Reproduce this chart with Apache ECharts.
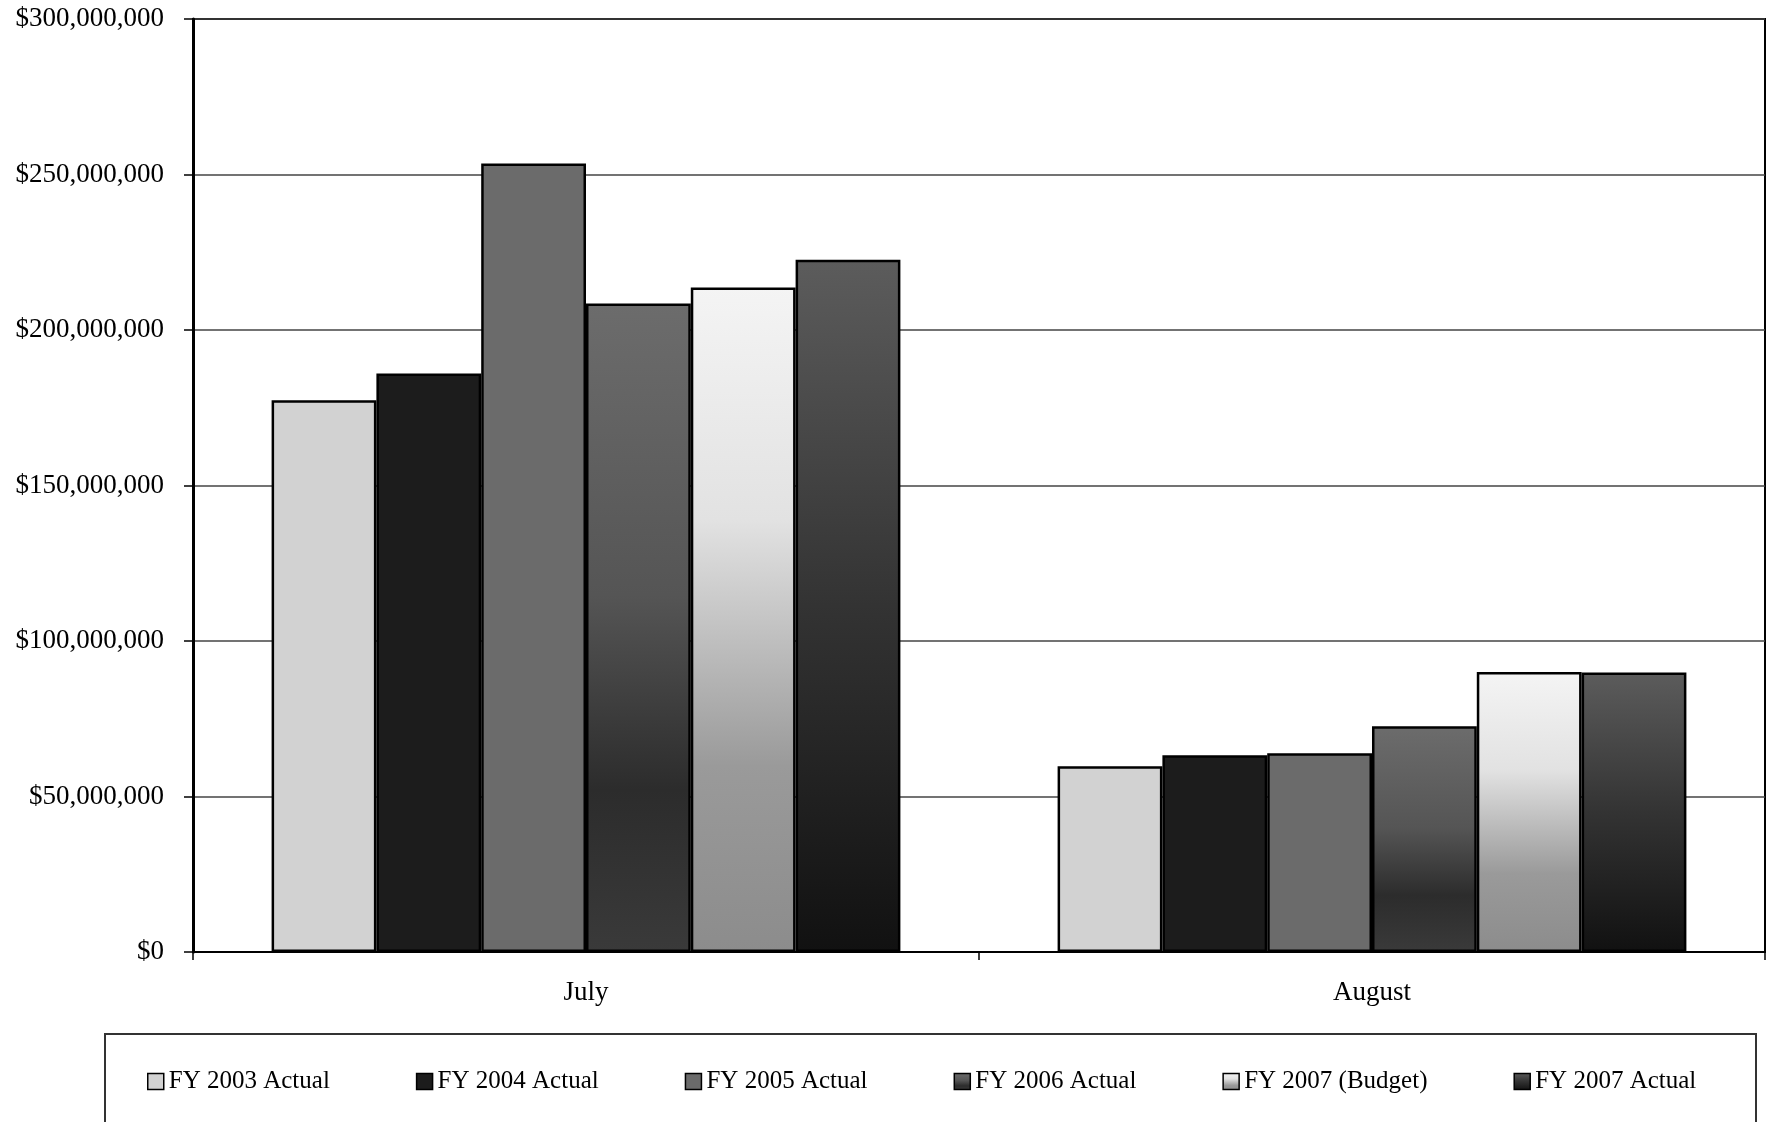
<!DOCTYPE html>
<html>
<head>
<meta charset="utf-8">
<script src="https://cdn.jsdelivr.net/npm/echarts@6/dist/echarts.min.js"></script>
<style>
  html, body { margin: 0; padding: 0; background: #fff; }
  #chart-container { width: 1769px; height: 1122px; }
</style>
</head>
<body>
<div id="chart-container"></div>
<script>
var dom = document.getElementById("chart-container");
var myChart = echarts.init(dom, null, { renderer: "canvas" });

// data (July, August)
var months = ["July", "August"];
var seriesNames = ["FY 2003 Actual", "FY 2004 Actual", "FY 2005 Actual", "FY 2006 Actual", "FY 2007 (Budget)", "FY 2007 Actual"];
var fy2003Actual = [177400000, 59700000];
var fy2004Actual = [186000000, 63300000];
var fy2005Actual = [253500000, 63900000];
var fy2006Actual = [208500000, 72600000];
var fy2007Budget = [213700000, 90000000];
var fy2007Actual = [222600000, 89900000];
var yTicks = { min: 0, max: 300000000, interval: 50000000 };

var serif = "'Liberation Serif', 'Times New Roman', serif";

function grad(stops) {
  return new echarts.graphic.LinearGradient(0, 0, 0, 1, stops.map(function (s) {
    return { offset: s[0], color: s[1] };
  }));
}

var fills = [
  "#d2d2d2",
  "#1c1c1c",
  "#6b6b6b",
  grad([[0, "#6c6c6c"], [0.45, "#555"], [0.75, "#2c2c2c"], [1, "#3a3a3a"]]),
  grad([[0, "#f4f4f4"], [0.35, "#e2e2e2"], [0.72, "#9a9a9a"], [1, "#8c8c8c"]]),
  grad([[0, "#5c5c5c"], [0.5, "#333"], [1, "#111"]])
];
var values = [fy2003Actual, fy2004Actual, fy2005Actual, fy2006Actual, fy2007Budget, fy2007Actual];

function money(v) {
  return "$" + String(v).replace(/\B(?=(\d{3})+(?!\d))/g, ",");
}

var option = {
  animation: false,
  backgroundColor: "#fff",
  textStyle: { fontFamily: serif, color: "#000" },
  grid: {
    left: 193, right: 4, top: 19, bottom: 170,
    show: true, borderColor: "#000", borderWidth: 2
  },
  legend: {
    left: 142, top: 1064,
    itemWidth: 16, itemHeight: 16, itemGap: 86,
    icon: "rect",
    textStyle: { fontFamily: serif, fontSize: 25, color: "#000", padding: [0, 0, 0, 0] },
    itemStyle: { borderColor: "#000", borderWidth: 1.5 },
    data: seriesNames
  },
  graphic: [{
    type: "rect",
    shape: { x: 105, y: 1034, width: 1651, height: 120 },
    style: { fill: "none", stroke: "#333", lineWidth: 2 },
    silent: true
  }],
  xAxis: {
    type: "category",
    data: months,
    axisLine: { lineStyle: { color: "#000", width: 2 } },
    axisTick: { show: true, length: 8, lineStyle: { color: "#000", width: 1.5 } },
    axisLabel: { fontFamily: serif, fontSize: 27, color: "#000", margin: 27 }
  },
  yAxis: {
    type: "value",
    min: yTicks.min, max: yTicks.max, interval: yTicks.interval,
    axisLine: { show: true, lineStyle: { color: "#000", width: 3 } },
    axisTick: { show: true, length: 9, lineStyle: { color: "#000", width: 1.5 } },
    axisLabel: { fontFamily: serif, fontSize: 27, color: "#000", margin: 29, formatter: money },
    splitLine: { lineStyle: { color: "#444", width: 1.5 } }
  },
  series: seriesNames.map(function (name, i) {
    return {
      name: name,
      type: "bar",
      data: values[i],
      barGap: "0%",
      barCategoryGap: "20%",
      itemStyle: { color: fills[i], borderColor: "#000", borderWidth: 2.5 }
    };
  })
};

myChart.setOption(option);
window.addEventListener("resize", myChart.resize);
</script>
</body>
</html>
